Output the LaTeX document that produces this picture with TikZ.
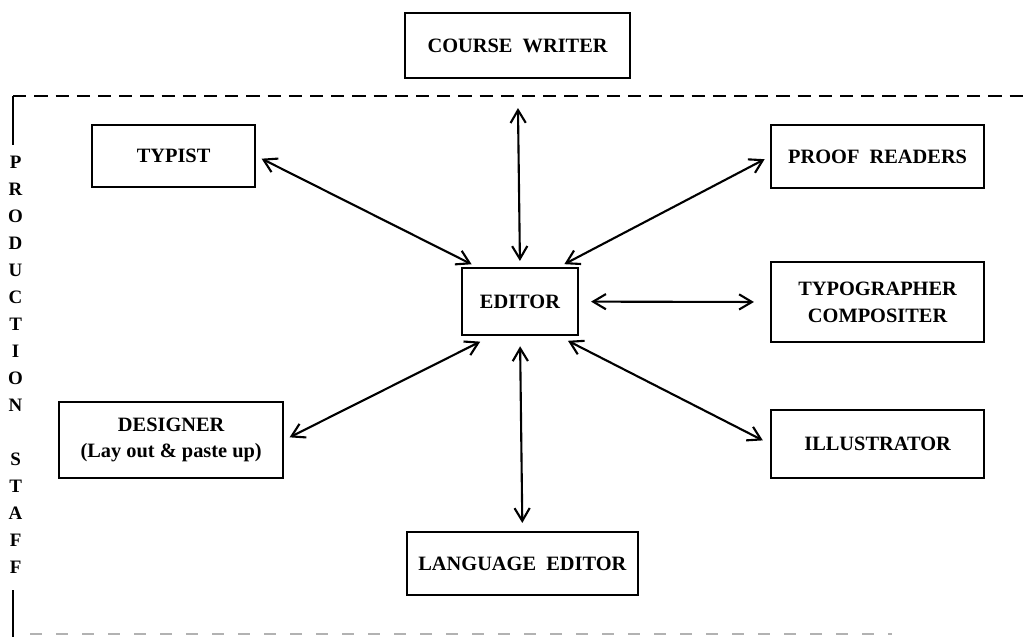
\documentclass[tikz,border=0pt]{standalone}
\usepackage{fontspec}
\setmainfont{Liberation Serif}
\usetikzlibrary{arrows.meta,positioning,calc}

\begin{document}
\begin{tikzpicture}[
  box/.style={draw, line width=1.5pt, align=center, inner sep=0pt,
    font=\fontsize{14.5}{19}\selectfont\bfseries},
  link/.style={line width=1.5pt, shorten <=0.15cm, shorten >=0.15cm,
    {Straight Barb[length=3.2mm,width=3.8mm]}-{Straight Barb[length=3.2mm,width=3.8mm]}}
]
  \useasboundingbox (0,0) rectangle (25.575,-15.925);

  % Production staff frame
  \draw[line width=1.6pt, dash pattern=on 0.33cm off 0.2cm] (0.33,-2.4) -- (25.575,-2.4);
  \draw[line width=1.6pt] (0.33,-2.4) -- (0.33,-3.63);
  \draw[line width=1.6pt] (0.33,-14.75) -- (0.33,-15.925);
  \draw[line width=1.2pt, gray!60, dash pattern=on 0.3cm off 0.35cm] (0.75,-15.85) -- (22.3,-15.85);
  \node[align=center, font=\fontsize{13.5}{19.2}\selectfont\bfseries] (staff) at (0.39,-9.11)
    {P\\R\\O\\D\\U\\C\\T\\I\\O\\N\\[19.2pt]S\\T\\A\\F\\F};

  % Boxes
  \node[box, minimum width=5.63cm, minimum height=1.63cm] (writer) at (12.94,-1.14) {COURSE\ \ WRITER};
  \node[box, minimum width=4.08cm, minimum height=1.55cm] (typist) at (4.34,-3.9) {TYPIST};
  \node[box, minimum width=5.33cm, minimum height=1.58cm] (proof) at (21.94,-3.91) {PROOF\ \ READERS};
  \node[box, minimum width=2.9cm, minimum height=1.68cm] (editor) at (13.0,-7.54) {EDITOR};
  \node[box, minimum width=5.33cm, minimum height=2.0cm] (typo) at (21.94,-7.55) {TYPOGRAPHER\\COMPOSITER};
  \node[box, minimum width=5.6cm, minimum height=1.9cm] (designer) at (4.28,-11.0) {DESIGNER\\(Lay out \& paste up)};
  \node[box, minimum width=5.33cm, minimum height=1.7cm] (illus) at (21.94,-11.1) {ILLUSTRATOR};
  \node[box, minimum width=5.78cm, minimum height=1.58cm] (lang) at (13.06,-14.09) {LANGUAGE\ \ EDITOR};

  % Links to the editor
  \draw[link, shorten <=0.72cm] (writer.south) -- (editor.north);
  \draw[link] (typist.east) -- ([xshift=0.4cm]editor.north west);
  \draw[link] (proof.west) -- ([xshift=-0.5cm]editor.north east);
  \draw[link, shorten <=0.3cm, shorten >=0.4cm] (editor.east) -- (typo.west);
  \draw[link, shorten >=0.3cm] (designer.east) -- ([xshift=0.75cm]editor.south west);
  \draw[link, shorten <=0.25cm, shorten >=0.2cm] ([xshift=-0.5cm]editor.south east) -- (illus.west);
  \draw[link, shorten <=0.25cm, shorten >=0.2cm] (editor.south) -- (lang.north);
\end{tikzpicture}
\end{document}
